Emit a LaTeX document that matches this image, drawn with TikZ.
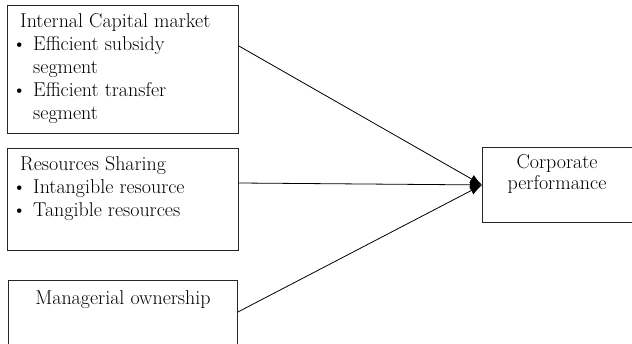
\documentclass[tikz,border=0pt]{standalone}
\usetikzlibrary{arrows.meta}

\begin{document}
\begin{tikzpicture}[x=1pt,y=-1pt,
  box/.style={draw=black!85,line width=0.9pt,anchor=north west,inner sep=0pt},
  txt/.style={anchor=north west,align=left,inner sep=0pt,font=\fontsize{20}{23}\selectfont},
  link/.style={line width=0.8pt,-{Latex[length=12pt,width=9pt]}}]
\clip (0,0) rectangle (632,344);
\fill[white] (0,0) rectangle (632,344);

% the three factors
\node[box,minimum width=231pt,minimum height=128pt] (icm) at (7,5) {};
\node[txt] (icmtext) at ([xshift=5pt,yshift=-8.5pt]icm.north west)
  {\hspace*{8pt}Internal Capital market\\
   \makebox[21pt][l]{\textbullet}Efficient subsidy\\
   \hspace*{21pt}segment\\
   \makebox[21pt][l]{\textbullet}Efficient transfer\\
   \hspace*{21pt}segment};

\node[box,minimum width=231pt,minimum height=102pt] (rs) at (7,148) {};
\node[txt] (rstext) at ([xshift=5pt,yshift=-8.5pt]rs.north west)
  {\hspace*{8pt}Resources Sharing\\
   \makebox[21pt][l]{\textbullet}Intangible resource\\
   \makebox[21pt][l]{\textbullet}Tangible resources};

\node[box,minimum width=229pt,minimum height=90pt] (mo) at (8,280) {};
\node[txt,anchor=north] (motext) at ([yshift=-10.5pt]mo.north) {Managerial ownership};

% outcome
\node[box,minimum width=160pt,minimum height=75pt] (cp) at (482,147) {};
\node[txt,anchor=north,align=center,font=\fontsize{20}{21}\selectfont] (cptext) at (557,154.5) {Corporate\\performance};

% links
\draw[link] ([yshift=-41pt]icm.north east) -- (cp.west);
\draw[link] ([yshift=-35pt]rs.north east) -- (cp.west);
\draw[link] ([yshift=-32pt]mo.north east) -- (cp.west);
\end{tikzpicture}
\end{document}
